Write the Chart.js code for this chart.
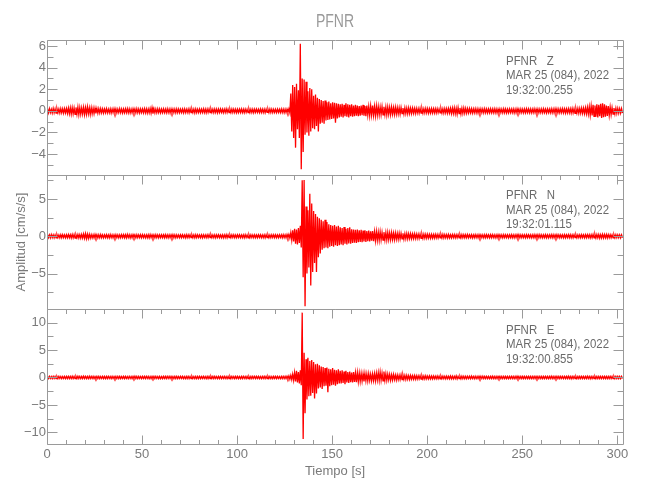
<!DOCTYPE html>
<html lang="es">
<head>
<meta charset="utf-8">
<title>PFNR</title>
<script src="https://cdn.jsdelivr.net/npm/chart.js@4/dist/chart.umd.min.js"></script>
<style>
  html, body { margin: 0; padding: 0; background: #fff; }
</style>
</head>
<body>
<canvas id="grafico" width="650" height="500"></canvas>
<script>
const fuente = "'Liberation Sans', Arimo, sans-serif"

const estacion = 'PFNR'
const componentes = ['PFNR   Z', 'PFNR   N', 'PFNR   E']
const fechas = ['MAR 25 (084), 2022', 'MAR 25 (084), 2022', 'MAR 25 (084), 2022']
const horas = ['19:32:00.255', '19:32:01.115', '19:32:00.855']

// etiquetas de los ejes
const marcasX = [0, 50, 100, 150, 200, 250, 300]
const marcasZ = [-4, -2, 0, 2, 4, 6]
const marcasN = [-5, 0, 5]
const marcasE = [-10, -5, 0, 5, 10]

const altoZ = [
  0.18,0.2,0.15,0.22,0.18,0.2,0.17,0.21,0.19,0.2,
  0.22,0.25,0.28,0.3,0.26,0.32,0.35,0.3,0.28,0.33,
  0.3,0.36,0.28,0.3,0.25,0.26,0.22,0.2,0.21,0.18,
  0.18,0.2,0.16,0.19,0.17,0.2,0.18,0.16,0.2,0.18,
  0.17,0.19,0.2,0.18,0.16,0.19,0.18,0.2,0.17,0.18,
  0.18,0.2,0.19,0.17,0.22,0.3,0.2,0.18,0.19,0.17,
  0.16,0.18,0.17,0.19,0.16,0.18,0.17,0.16,0.18,0.17,
  0.16,0.17,0.18,0.16,0.17,0.19,0.16,0.17,0.18,0.16,
  0.17,0.16,0.18,0.17,0.16,0.18,0.17,0.15,0.17,0.16,
  0.16,0.17,0.15,0.16,0.18,0.16,0.15,0.17,0.16,0.15,
  0.15,0.16,0.17,0.15,0.16,0.15,0.17,0.16,0.15,0.16,
  0.16,0.15,0.17,0.16,0.15,0.16,0.15,0.17,0.16,0.15,
  0.15,0.16,0.15,0.17,0.16,0.15,0.16,0.18,1.6,2.4,
  2.2,2.5,1.9,6.2,3.0,2.9,2.7,1.8,2.1,2.0,
  1.4,1.5,1.2,1.1,1.0,0.9,0.95,0.8,0.85,0.7,
  0.8,0.75,0.7,0.65,0.6,0.65,0.55,0.7,0.6,0.55,
  0.6,0.5,0.55,0.5,0.45,0.5,0.55,0.45,0.5,0.4,
  0.45,0.5,0.4,0.45,0.4,0.35,0.4,0.38,0.35,0.36,
  0.32,0.35,0.3,0.33,0.3,0.28,0.3,0.26,0.28,0.25,
  0.27,0.24,0.25,0.22,0.22,0.2,0.23,0.21,0.2,0.22,
  0.2,0.19,0.21,0.2,0.19,0.2,0.18,0.2,0.19,0.21,
  0.2,0.22,0.24,0.26,0.28,0.25,0.3,0.27,0.24,0.26,
  0.22,0.2,0.21,0.19,0.18,0.2,0.19,0.17,0.19,0.18,
  0.2,0.17,0.18,0.19,0.17,0.19,0.18,0.16,0.18,0.17,
  0.19,0.18,0.16,0.18,0.17,0.18,0.16,0.19,0.17,0.18,
  0.16,0.17,0.19,0.18,0.18,0.17,0.19,0.16,0.18,0.17,
  0.18,0.19,0.17,0.18,0.17,0.19,0.18,0.2,0.18,0.17,
  0.19,0.2,0.18,0.19,0.2,0.19,0.22,0.2,0.21,0.23,
  0.22,0.25,0.24,0.28,0.32,0.38,0.45,0.55,0.5,0.6,
  0.55,0.65,0.7,0.6,0.5,0.45,0.35,0.3,0.26,0.24,
  0.22,0.2,0.21
]
const bajoZ = [
  -0.19,-0.16,-0.2,-0.18,-0.21,-0.17,-0.2,-0.18,-0.22,-0.19,
  -0.24,-0.27,-0.3,-0.28,-0.33,-0.3,-0.36,-0.32,-0.29,-0.34,
  -0.31,-0.28,-0.33,-0.27,-0.26,-0.23,-0.22,-0.2,-0.18,-0.2,
  -0.17,-0.19,-0.18,-0.2,-0.16,-0.18,-0.2,-0.17,-0.18,-0.19,
  -0.18,-0.17,-0.19,-0.2,-0.18,-0.16,-0.19,-0.18,-0.2,-0.17,
  -0.19,-0.18,-0.2,-0.18,-0.21,-0.25,-0.19,-0.18,-0.17,-0.19,
  -0.17,-0.16,-0.18,-0.17,-0.19,-0.16,-0.17,-0.18,-0.16,-0.17,
  -0.16,-0.18,-0.17,-0.16,-0.18,-0.17,-0.16,-0.19,-0.17,-0.16,
  -0.17,-0.16,-0.17,-0.18,-0.16,-0.17,-0.15,-0.17,-0.16,-0.18,
  -0.16,-0.15,-0.17,-0.16,-0.15,-0.17,-0.16,-0.15,-0.16,-0.17,
  -0.16,-0.15,-0.16,-0.17,-0.15,-0.16,-0.15,-0.16,-0.17,-0.15,
  -0.15,-0.16,-0.15,-0.16,-0.17,-0.15,-0.16,-0.15,-0.16,-0.15,
  -0.16,-0.15,-0.16,-0.15,-0.17,-0.16,-0.15,-0.18,-1.9,-2.5,
  -3.4,-1.7,-2.5,-5.4,-3.8,-2.2,-2.0,-2.3,-1.9,-1.6,
  -1.7,-1.4,-1.9,-1.2,-1.1,-1.2,-0.9,-0.85,-0.8,-0.75,
  -0.7,-1.1,-0.7,-0.6,-0.55,-0.6,-0.5,-0.55,-0.6,-0.5,
  -0.55,-0.5,-0.45,-0.5,-0.45,-0.4,-0.45,-0.5,-0.4,-0.45,
  -0.4,-0.42,-0.45,-0.4,-0.38,-0.35,-0.36,-0.34,-0.38,-0.32,
  -0.35,-0.3,-0.33,-0.3,-0.28,-0.3,-0.26,-0.28,-0.25,-0.27,
  -0.24,-0.25,-0.22,-0.24,-0.21,-0.22,-0.2,-0.21,-0.19,-0.2,
  -0.21,-0.2,-0.19,-0.2,-0.2,-0.18,-0.19,-0.2,-0.21,-0.19,
  -0.22,-0.2,-0.25,-0.24,-0.27,-0.3,-0.26,-0.28,-0.25,-0.23,
  -0.22,-0.2,-0.19,-0.2,-0.19,-0.18,-0.2,-0.18,-0.17,-0.19,
  -0.18,-0.2,-0.17,-0.18,-0.18,-0.17,-0.19,-0.18,-0.16,-0.18,
  -0.17,-0.19,-0.18,-0.17,-0.17,-0.19,-0.18,-0.16,-0.18,-0.17,
  -0.19,-0.18,-0.16,-0.18,-0.18,-0.17,-0.16,-0.19,-0.18,-0.17,
  -0.18,-0.16,-0.19,-0.17,-0.18,-0.17,-0.19,-0.18,-0.2,-0.18,
  -0.17,-0.19,-0.2,-0.18,-0.19,-0.21,-0.2,-0.22,-0.2,-0.23,
  -0.22,-0.24,-0.26,-0.27,-0.3,-0.4,-0.42,-0.5,-0.55,-0.6,
  -0.5,-0.65,-0.58,-0.55,-0.48,-0.42,-0.35,-0.3,-0.27,-0.24,
  -0.22,-0.21,-0.2
]

const altoN = [
  0.2,0.18,0.22,0.2,0.19,0.21,0.18,0.2,0.22,0.19,
  0.2,0.22,0.21,0.25,0.23,0.2,0.24,0.22,0.26,0.3,
  0.35,0.28,0.25,0.22,0.2,0.24,0.21,0.2,0.22,0.19,
  0.2,0.21,0.19,0.22,0.2,0.18,0.21,0.2,0.19,0.22,
  0.21,0.2,0.24,0.2,0.19,0.22,0.2,0.21,0.19,0.2,
  0.22,0.2,0.19,0.21,0.23,0.2,0.19,0.21,0.2,0.18,
  0.2,0.19,0.21,0.2,0.18,0.2,0.22,0.19,0.2,0.18,
  0.19,0.2,0.18,0.21,0.19,0.2,0.18,0.19,0.21,0.2,
  0.18,0.2,0.19,0.18,0.2,0.21,0.19,0.18,0.2,0.19,
  0.2,0.18,0.19,0.2,0.22,0.19,0.18,0.2,0.19,0.18,
  0.19,0.2,0.18,0.19,0.21,0.18,0.2,0.19,0.18,0.2,
  0.18,0.19,0.2,0.18,0.19,0.21,0.2,0.18,0.19,0.2,
  0.19,0.18,0.2,0.19,0.21,0.2,0.22,0.25,0.5,0.8,
  1.0,0.9,1.1,1.4,7.5,7.55,4.0,3.5,5.7,4.4,
  3.4,3.0,2.6,2.4,2.2,2.0,2.2,1.9,1.6,1.5,
  1.4,1.5,1.3,1.4,1.2,1.1,1.25,1.0,1.1,1.2,
  0.95,0.9,0.85,0.9,0.8,0.85,0.75,0.8,0.7,0.75,
  0.65,0.7,0.6,0.65,0.55,0.6,0.5,0.55,0.5,0.52,
  0.45,0.5,0.42,0.45,0.4,0.42,0.38,0.4,0.35,0.37,
  0.33,0.35,0.3,0.32,0.3,0.28,0.3,0.27,0.28,0.26,
  0.27,0.25,0.26,0.24,0.25,0.23,0.24,0.22,0.25,0.23,
  0.22,0.24,0.21,0.23,0.22,0.2,0.23,0.21,0.22,0.2,
  0.21,0.22,0.2,0.21,0.19,0.22,0.2,0.21,0.2,0.19,
  0.2,0.21,0.19,0.2,0.22,0.2,0.19,0.21,0.2,0.19,
  0.21,0.2,0.19,0.2,0.21,0.19,0.2,0.22,0.2,0.19,
  0.2,0.19,0.21,0.2,0.19,0.2,0.21,0.19,0.2,0.21,
  0.19,0.2,0.21,0.19,0.2,0.22,0.2,0.19,0.21,0.2,
  0.2,0.19,0.21,0.2,0.22,0.2,0.19,0.21,0.2,0.19,
  0.2,0.21,0.19,0.2,0.22,0.21,0.2,0.24,0.25,0.23,
  0.24,0.22,0.25,0.23,0.24,0.22,0.21,0.19,0.2,0.21,
  0.2,0.19,0.2
]
const bajoN = [
  -0.2,-0.22,-0.19,-0.21,-0.2,-0.18,-0.21,-0.2,-0.19,-0.22,
  -0.21,-0.2,-0.23,-0.22,-0.25,-0.21,-0.23,-0.26,-0.24,-0.28,
  -0.32,-0.3,-0.26,-0.23,-0.22,-0.2,-0.23,-0.21,-0.2,-0.21,
  -0.19,-0.2,-0.22,-0.19,-0.21,-0.2,-0.18,-0.21,-0.2,-0.19,
  -0.2,-0.22,-0.19,-0.23,-0.2,-0.18,-0.21,-0.19,-0.2,-0.21,
  -0.19,-0.21,-0.2,-0.22,-0.19,-0.21,-0.2,-0.18,-0.21,-0.2,
  -0.19,-0.2,-0.18,-0.21,-0.2,-0.19,-0.2,-0.21,-0.18,-0.2,
  -0.2,-0.18,-0.21,-0.19,-0.2,-0.18,-0.2,-0.21,-0.19,-0.18,
  -0.19,-0.21,-0.18,-0.2,-0.19,-0.18,-0.2,-0.19,-0.21,-0.18,
  -0.2,-0.19,-0.21,-0.18,-0.2,-0.19,-0.2,-0.18,-0.19,-0.2,
  -0.18,-0.19,-0.2,-0.21,-0.18,-0.2,-0.19,-0.18,-0.2,-0.19,
  -0.2,-0.18,-0.19,-0.2,-0.21,-0.18,-0.19,-0.2,-0.18,-0.19,
  -0.2,-0.19,-0.18,-0.2,-0.19,-0.21,-0.2,-0.24,-0.5,-0.7,
  -1.0,-1.1,-0.9,-1.5,-5.5,-9.4,-5.0,-4.2,-6.6,-4.8,
  -3.6,-4.8,-2.8,-2.3,-1.8,-1.6,-1.5,-1.6,-1.4,-1.3,
  -1.4,-1.2,-1.3,-1.2,-1.1,-1.2,-1.0,-1.1,-0.95,-1.0,
  -0.9,-0.85,-0.9,-0.8,-0.75,-0.8,-0.7,-0.75,-0.65,-0.7,
  -0.6,-0.65,-0.6,-0.55,-0.55,-0.5,-0.52,-0.48,-0.5,-0.45,
  -0.47,-0.42,-0.45,-0.4,-0.4,-0.38,-0.36,-0.38,-0.34,-0.36,
  -0.32,-0.33,-0.3,-0.31,-0.29,-0.3,-0.27,-0.28,-0.26,-0.27,
  -0.25,-0.26,-0.24,-0.25,-0.23,-0.24,-0.22,-0.24,-0.23,-0.22,
  -0.23,-0.21,-0.22,-0.2,-0.22,-0.21,-0.2,-0.22,-0.21,-0.2,
  -0.2,-0.21,-0.19,-0.22,-0.2,-0.19,-0.21,-0.2,-0.19,-0.21,
  -0.2,-0.19,-0.21,-0.2,-0.19,-0.21,-0.2,-0.19,-0.2,-0.21,
  -0.19,-0.2,-0.21,-0.19,-0.2,-0.21,-0.19,-0.2,-0.21,-0.2,
  -0.2,-0.21,-0.19,-0.2,-0.21,-0.19,-0.2,-0.2,-0.21,-0.19,
  -0.21,-0.19,-0.2,-0.21,-0.19,-0.2,-0.21,-0.2,-0.19,-0.2,
  -0.19,-0.21,-0.2,-0.19,-0.2,-0.22,-0.2,-0.19,-0.21,-0.2,
  -0.2,-0.19,-0.21,-0.2,-0.19,-0.22,-0.21,-0.23,-0.24,-0.22,
  -0.25,-0.23,-0.24,-0.22,-0.23,-0.21,-0.2,-0.21,-0.2,-0.19,
  -0.2,-0.21,-0.19
]

const altoE = [
  0.18,0.2,0.17,0.19,0.2,0.18,0.21,0.19,0.18,0.2,
  0.19,0.21,0.2,0.22,0.19,0.2,0.23,0.21,0.2,0.22,
  0.21,0.2,0.22,0.19,0.2,0.18,0.21,0.2,0.19,0.2,
  0.2,0.19,0.21,0.18,0.2,0.19,0.2,0.21,0.19,0.18,
  0.19,0.2,0.18,0.21,0.19,0.2,0.22,0.19,0.2,0.18,
  0.2,0.19,0.21,0.2,0.18,0.19,0.2,0.21,0.19,0.2,
  0.18,0.2,0.19,0.21,0.2,0.19,0.18,0.2,0.21,0.19,
  0.2,0.19,0.18,0.2,0.21,0.19,0.2,0.18,0.19,0.2,
  0.21,0.19,0.2,0.18,0.2,0.19,0.21,0.2,0.19,0.18,
  0.2,0.21,0.19,0.2,0.18,0.19,0.2,0.21,0.19,0.2,
  0.19,0.18,0.2,0.21,0.19,0.2,0.18,0.19,0.2,0.21,
  0.2,0.19,0.18,0.2,0.19,0.21,0.2,0.19,0.18,0.2,
  0.19,0.2,0.18,0.2,0.21,0.19,0.22,0.3,0.4,0.6,
  0.9,1.2,1.0,1.3,11.8,4.5,3.3,3.6,3.0,3.2,
  2.8,2.4,2.5,2.2,2.0,1.9,1.7,1.8,1.6,1.5,
  1.7,1.4,1.3,1.5,1.2,1.3,1.1,1.2,1.0,1.1,
  0.9,1.0,0.85,0.9,0.8,0.75,0.7,0.75,0.65,0.7,
  0.6,0.65,0.7,0.8,0.9,1.0,0.8,1.1,0.7,0.6,
  0.55,0.5,0.55,0.45,0.45,0.4,0.5,0.42,0.38,0.4,
  0.35,0.38,0.33,0.35,0.32,0.3,0.33,0.3,0.28,0.3,
  0.27,0.28,0.25,0.27,0.24,0.26,0.23,0.25,0.24,0.22,
  0.24,0.23,0.28,0.24,0.22,0.3,0.23,0.22,0.26,0.22,
  0.23,0.21,0.22,0.24,0.21,0.22,0.2,0.23,0.21,0.22,
  0.2,0.21,0.19,0.2,0.22,0.2,0.19,0.21,0.2,0.19,
  0.21,0.2,0.19,0.2,0.21,0.19,0.2,0.22,0.2,0.19,
  0.2,0.19,0.21,0.2,0.19,0.2,0.21,0.19,0.2,0.21,
  0.19,0.2,0.21,0.19,0.2,0.22,0.2,0.19,0.21,0.2,
  0.2,0.19,0.21,0.2,0.22,0.2,0.19,0.21,0.2,0.19,
  0.2,0.21,0.19,0.2,0.22,0.21,0.2,0.19,0.21,0.2,
  0.19,0.2,0.21,0.2,0.19,0.2,0.21,0.19,0.2,0.21,
  0.2,0.19,0.2
]
const bajoE = [
  -0.19,-0.18,-0.2,-0.19,-0.21,-0.2,-0.18,-0.2,-0.19,-0.21,
  -0.2,-0.19,-0.21,-0.2,-0.22,-0.19,-0.2,-0.21,-0.19,-0.2,
  -0.19,-0.21,-0.2,-0.19,-0.2,-0.21,-0.19,-0.2,-0.18,-0.2,
  -0.21,-0.2,-0.19,-0.2,-0.18,-0.2,-0.21,-0.19,-0.2,-0.19,
  -0.2,-0.19,-0.21,-0.18,-0.2,-0.19,-0.2,-0.21,-0.19,-0.2,
  -0.19,-0.2,-0.18,-0.21,-0.2,-0.19,-0.2,-0.18,-0.2,-0.21,
  -0.2,-0.19,-0.2,-0.18,-0.19,-0.21,-0.2,-0.19,-0.2,-0.18,
  -0.19,-0.2,-0.21,-0.19,-0.2,-0.18,-0.19,-0.2,-0.21,-0.19,
  -0.2,-0.18,-0.19,-0.21,-0.2,-0.19,-0.18,-0.2,-0.19,-0.21,
  -0.19,-0.2,-0.18,-0.19,-0.21,-0.2,-0.19,-0.18,-0.2,-0.19,
  -0.2,-0.21,-0.19,-0.18,-0.2,-0.19,-0.21,-0.2,-0.18,-0.19,
  -0.19,-0.2,-0.21,-0.19,-0.2,-0.18,-0.19,-0.21,-0.2,-0.19,
  -0.2,-0.19,-0.21,-0.2,-0.19,-0.2,-0.22,-0.3,-0.4,-0.5,
  -0.7,-0.9,-1.1,-1.4,-11.2,-6.5,-4.0,-3.4,-3.3,-2.8,
  -3.8,-2.9,-2.0,-1.8,-2.1,-1.6,-1.5,-2.7,-1.6,-1.4,
  -1.3,-1.5,-1.2,-1.1,-1.1,-1.0,-1.2,-0.9,-1.0,-0.85,
  -0.9,-0.8,-0.85,-0.75,-0.7,-0.65,-0.7,-0.6,-0.65,-0.55,
  -0.6,-0.55,-0.6,-0.5,-0.55,-0.5,-0.6,-0.5,-0.55,-0.45,
  -0.5,-0.45,-0.4,-0.45,-0.4,-0.38,-0.4,-0.35,-0.37,-0.33,
  -0.35,-0.32,-0.3,-0.32,-0.3,-0.28,-0.3,-0.27,-0.28,-0.26,
  -0.26,-0.25,-0.27,-0.24,-0.25,-0.23,-0.24,-0.22,-0.23,-0.24,
  -0.22,-0.24,-0.23,-0.26,-0.22,-0.25,-0.21,-0.23,-0.22,-0.21,
  -0.22,-0.21,-0.23,-0.2,-0.22,-0.21,-0.2,-0.22,-0.21,-0.2,
  -0.2,-0.19,-0.21,-0.2,-0.19,-0.21,-0.2,-0.19,-0.2,-0.21,
  -0.19,-0.2,-0.21,-0.19,-0.2,-0.21,-0.19,-0.2,-0.21,-0.2,
  -0.2,-0.21,-0.19,-0.2,-0.21,-0.19,-0.2,-0.2,-0.21,-0.19,
  -0.21,-0.19,-0.2,-0.21,-0.19,-0.2,-0.21,-0.2,-0.19,-0.2,
  -0.19,-0.21,-0.2,-0.19,-0.2,-0.22,-0.2,-0.19,-0.21,-0.2,
  -0.2,-0.19,-0.21,-0.2,-0.19,-0.22,-0.21,-0.2,-0.19,-0.21,
  -0.2,-0.21,-0.19,-0.2,-0.21,-0.19,-0.2,-0.21,-0.2,-0.19,
  -0.2,-0.21,-0.19
]

// cada segundo se dibuja como un vaiven: primero el maximo, despues el minimo
function armarTraza(alto, bajo) {
  const puntos = []
  for (let i = 0; i < alto.length; i++) {
    puntos.push({ x: i + 0.25, y: alto[i] })
    puntos.push({ x: i + 0.75, y: bajo[i] })
  }
  return puntos
}

function etiqueta(valor, marcas) {
  if (!marcas.includes(valor)) return ''
  return String(valor).replace('-', '\u2212')
}

function ejeY(min, max, paso, marcas, peso) {
  return {
    type: 'linear',
    position: 'left',
    stack: 'paneles',
    stackWeight: 1,
    weight: peso,
    min: min,
    max: max,
    grid: { display: false, drawTicks: false },
    border: { display: false },
    ticks: {
      stepSize: paso,
      autoSkip: false,
      includeBounds: false,
      padding: 1,
      color: '#7a7a7a',
      font: { family: fuente, size: 13 },
      callback: (v) => etiqueta(v, marcas)
    },
    afterFit: (eje) => { eje.width = 47 }
  }
}

const escalaN = ejeY(-9.8, 8.26, 2.5, marcasN, 2)
escalaN.title = {
  display: true,
  text: 'Amplitud [cm/s/s]',
  color: '#7a7a7a',
  font: { family: fuente, size: 13 },
  padding: { top: 14, bottom: 0 }
}

// texto angosto, como la letra del original
function textoAngosto(ctx, texto, x, y, escala) {
  ctx.save()
  ctx.translate(x, y)
  ctx.scale(escala, 1)
  ctx.fillText(texto, 0, 0)
  ctx.restore()
}

// marco de cada panel, marcas hacia adentro y textos
const marco = {
  id: 'marco',
  afterDraw(chart) {
    const ctx = chart.ctx
    const area = chart.chartArea
    const ejeX = chart.scales.x
    const izq = Math.round(area.left) + 0.5
    const der = Math.round(area.right) + 0.5

    ctx.save()
    ctx.strokeStyle = '#9a9a9a'
    ctx.lineWidth = 1

    const paneles = [['yZ', 1, 2], ['yN', 2.5, 5], ['yE', 2.5, 5]]
    paneles.forEach(([id, menor, mayor], n) => {
      const eje = chart.scales[id]
      const arriba = Math.round(eje.top) + 0.5
      const abajo = Math.round(eje.bottom) + 0.5
      ctx.beginPath()
      ctx.rect(izq, arriba, der - izq, abajo - arriba)

      eje.ticks.forEach((t) => {
        const esMayor = Math.abs(t.value / mayor - Math.round(t.value / mayor)) < 1e-6
        const largo = esMayor ? 10 : 6
        const y = Math.round(eje.getPixelForValue(t.value)) + 0.5
        ctx.moveTo(izq, y); ctx.lineTo(izq + largo, y)
        ctx.moveTo(der, y); ctx.lineTo(der - largo, y)
      })

      ejeX.ticks.forEach((t) => {
        const largo = t.value % 50 === 0 ? 9 : 4.5
        const x = Math.round(ejeX.getPixelForValue(t.value)) + 0.5
        ctx.moveTo(x, arriba); ctx.lineTo(x, arriba + largo)
        if (n === paneles.length - 1) {
          ctx.moveTo(x, abajo); ctx.lineTo(x, abajo - largo)
        }
      })
      ctx.stroke()

      ctx.fillStyle = '#6a6a6a'
      ctx.font = '13px ' + fuente
      ctx.textAlign = 'left'
      ctx.textBaseline = 'middle'
      const xt = area.right - 117
      textoAngosto(ctx, componentes[n], xt, eje.top + 21, 0.88)
      textoAngosto(ctx, fechas[n], xt, eje.top + 35.5, 0.88)
      textoAngosto(ctx, horas[n], xt, eje.top + 50, 0.88)
    })

    ctx.fillStyle = '#9a9a9a'
    ctx.font = '18px ' + fuente
    ctx.textAlign = 'center'
    textoAngosto(ctx, estacion, (area.left + area.right) / 2, 22, 0.78)
    ctx.restore()
  }
}

// el relleno hasta el cero imita la traza densa del registro original
function serie(nombre, datos, eje) {
  return {
    label: nombre,
    data: datos,
    yAxisID: eje,
    borderColor: '#ff0000',
    borderWidth: 1.3,
    backgroundColor: 'rgba(255, 60, 60, 0.55)',
    fill: 'origin',
    pointRadius: 0,
    tension: 0
  }
}

const grafico = new Chart(document.getElementById('grafico'), {
  type: 'line',
  data: {
    datasets: [
      serie('Z', armarTraza(altoZ, bajoZ), 'yZ'),
      serie('N', armarTraza(altoN, bajoN), 'yN'),
      serie('E', armarTraza(altoE, bajoE), 'yE')
    ]
  },
  options: {
    responsive: false,
    animation: false,
    parsing: false,
    normalized: true,
    layout: { padding: { top: 40, right: 27, left: 0, bottom: 0 } },
    plugins: {
      legend: { display: false },
      tooltip: { enabled: false }
    },
    scales: {
      x: {
        type: 'linear',
        position: 'bottom',
        min: 0,
        max: 303,
        grid: { display: false, drawTicks: false },
        border: { display: false },
        ticks: {
          stepSize: 10,
          autoSkip: false,
          includeBounds: false,
          maxRotation: 0,
          padding: 3,
          color: '#7a7a7a',
          font: { family: fuente, size: 13 },
          callback: (v) => marcasX.includes(v) ? String(v) : ''
        },
        title: {
          display: true,
          text: 'Tiempo [s]',
          color: '#7a7a7a',
          font: { family: fuente, size: 13 },
          padding: { top: 0, bottom: 21 }
        },
        afterFit: (eje) => { eje.height = 56 }
      },
      yZ: ejeY(-5.9, 6.55, 1, marcasZ, 3),
      yN: escalaN,
      yE: ejeY(-12.1, 12.4, 2.5, marcasE, 1)
    }
  },
  plugins: [marco]
})
</script>
</body>
</html>
